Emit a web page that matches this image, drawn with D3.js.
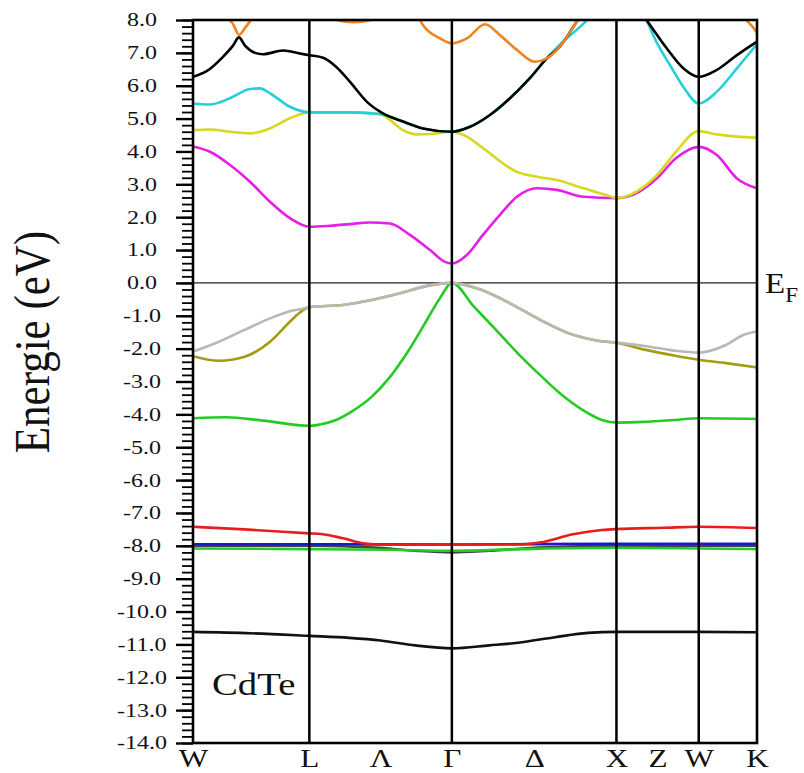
<!DOCTYPE html>
<html>
<head>
<meta charset="utf-8">
<script src="https://cdn.jsdelivr.net/npm/d3@7"></script>
<style>
  body { margin: 0; background: #fff; }
  svg text { font-family: "Liberation Serif", "Times New Roman", serif; fill: #111; }
</style>
</head>
<body>
<div id="chart"></div>
<script>
// k path W-L-Γ-X-W-K, distances in units of 2pi/a
var symLabels = ["W", "L", "Λ", "Γ", "Δ", "X", "Z", "W", "K"];
var symK = [0, 0.707, 1.140, 1.573, 2.073, 2.573, 2.823, 3.073, 3.427];
var symLines = [0.707, 1.573, 2.573, 3.073];

var yMajor = d3.range(-14, 8.001, 1);
var yMinor = d3.range(-14, 8.001, 0.2);

// bands, [k, E (eV)]
var bandCore = [[0,-10.62],[0.35,-10.66],[0.707,-10.74],[0.95,-10.80],[1.14,-10.88],[1.35,-11.03],[1.573,-11.12],
  [1.8,-11.03],[1.975,-10.95],[2.2,-10.78],[2.4,-10.65],[2.573,-10.62],[3.073,-10.62],[3.427,-10.63]];
var bandGreenLow = [[0,-8.08],[0.707,-8.10],[1.2,-8.12],[1.573,-8.15],[2.0,-8.10],[2.573,-8.06],[3.073,-8.08],[3.427,-8.10]];
var bandGreyLow = [[0,-8.0],[0.707,-8.0],[1.1,-8.05],[1.35,-8.15],[1.573,-8.2],[1.8,-8.15],[2.1,-8.05],[2.573,-8.0],[3.073,-8.0],[3.427,-8.0]];
var bandBlue = [[0,-7.95],[0.707,-7.95],[1.573,-7.96],[2.573,-7.94],[3.073,-7.94],[3.427,-7.94]];
var bandRed = [[0,-7.42],[0.313,-7.50],[0.707,-7.62],[0.778,-7.64],[0.911,-7.77],[1.045,-7.93],[1.154,-7.96],[1.573,-7.96],
  [1.975,-7.96],[2.108,-7.90],[2.309,-7.65],[2.485,-7.52],[2.573,-7.49],[2.861,-7.45],[3.073,-7.42],[3.427,-7.46]];

var bandLH = [[0,-4.12],[0.200,-4.09],[0.425,-4.19],[0.707,-4.35],[0.778,-4.30],[0.869,-4.17],[0.978,-3.87],[1.087,-3.46],
  [1.197,-2.86],[1.312,-2.04],[1.422,-1.12],[1.507,-0.41],[1.573,0],[1.707,-0.72],[1.841,-1.43],[1.975,-2.15],
  [2.108,-2.80],[2.242,-3.41],[2.369,-3.87],[2.485,-4.17],[2.573,-4.25],[2.743,-4.23],[2.928,-4.17],[3.073,-4.12],[3.427,-4.14]];
var bandOlive = [[0,-2.23],[0.158,-2.37],[0.313,-2.25],[0.468,-1.79],[0.601,-1.12],[0.650,-0.90],[0.707,-0.74],
  [0.911,-0.67],[1.087,-0.52],[1.264,-0.31],[1.422,-0.09],[1.573,0],[1.750,-0.21],[1.926,-0.62],[2.108,-1.12],
  [2.309,-1.58],[2.460,-1.76],[2.573,-1.82],[2.743,-2.03],[2.922,-2.21],[3.073,-2.34],[3.238,-2.44],[3.427,-2.57]];
var bandHH = [[0,-2.09],[0.158,-1.79],[0.313,-1.43],[0.468,-1.08],[0.601,-0.85],[0.650,-0.80],[0.707,-0.74],
  [0.911,-0.67],[1.087,-0.52],[1.264,-0.31],[1.422,-0.09],[1.573,0],[1.750,-0.21],[1.926,-0.62],[2.108,-1.12],
  [2.309,-1.58],[2.460,-1.76],[2.573,-1.82],[2.743,-1.92],[2.922,-2.06],[3.073,-2.12],[3.238,-1.89],[3.347,-1.58],[3.427,-1.48]];

var bandMagenta = [[0,4.15],[0.103,3.99],[0.225,3.59],[0.346,3.08],[0.468,2.47],[0.589,1.97],[0.707,1.71],[0.832,1.74],
  [0.954,1.79],[1.075,1.84],[1.197,1.81],[1.318,1.46],[1.440,1.0],[1.531,0.64],[1.573,0.59],[1.664,0.85],[1.762,1.46],
  [1.865,2.07],[1.968,2.62],[2.090,2.88],[2.211,2.83],[2.373,2.62],[2.573,2.58],[2.713,2.78],[2.819,3.18],[2.934,3.79],
  [3.073,4.14],[3.183,3.89],[3.305,3.18],[3.427,2.88]];
var bandYellow = [[0,4.65],[0.103,4.67],[0.225,4.60],[0.346,4.55],[0.468,4.70],[0.589,5.01],[0.707,5.19],[0.832,5.19],
  [0.954,5.19],[1.075,5.17],[1.154,5.11],[1.197,4.96],[1.276,4.65],[1.357,4.52],[1.440,4.53],[1.573,4.60],[1.664,4.45],
  [1.762,4.10],[1.968,3.38],[2.090,3.23],[2.211,3.13],[2.373,2.88],[2.515,2.67],[2.573,2.58],[2.695,2.78],[2.819,3.28],
  [2.934,3.99],[3.073,4.62],[3.183,4.52],[3.305,4.45],[3.427,4.42]];
var bandCyan = [[0,5.46],[0.103,5.43],[0.225,5.62],[0.346,5.90],[0.407,5.92],[0.468,5.77],[0.589,5.36],[0.707,5.19],
  [0.832,5.19],[0.954,5.19],[1.075,5.16],[1.154,5.12],[1.276,4.91],[1.397,4.70],[1.573,4.60],[1.683,4.75],[1.804,5.11],
  [1.926,5.62],[2.047,6.23],[2.150,6.83],[2.248,7.34],[2.394,8.0],[2.473,8.5],[2.573,8.9],[2.695,8.5],[2.755,8.0],
  [2.815,7.34],[2.898,6.63],[2.979,5.97],[3.073,5.46],[3.183,5.82],[3.305,6.53],[3.427,7.27]];
var bandBlack = [[0,6.27],[0.085,6.45],[0.182,6.88],[0.243,7.22],[0.279,7.47],[0.316,7.22],[0.377,7.0],[0.425,6.96],
  [0.548,7.07],[0.650,6.98],[0.707,6.93],[0.790,6.85],[0.869,6.58],[0.954,6.12],[1.057,5.51],[1.154,5.16],[1.276,4.91],
  [1.397,4.70],[1.573,4.60],[1.683,4.75],[1.804,5.11],[1.926,5.62],[2.047,6.23],[2.150,6.83],[2.229,7.19],[2.339,8.0],
  [2.473,8.8],[2.573,9.2],[2.695,8.4],[2.755,8.0],[2.878,7.14],[2.979,6.53],[3.073,6.27],[3.183,6.48],[3.305,6.93],[3.427,7.34]];
var bandOrange = [[0,8.8],[0.158,8.4],[0.213,8.05],[0.243,7.88],[0.279,7.55],[0.322,7.8],[0.365,8.08],[0.468,8.6],
  [0.707,8.7],[0.832,8.3],[0.875,8.0],[0.972,7.93],[1.081,8.0],[1.197,8.4],[1.318,8.3],[1.379,8.0],[1.397,7.85],
  [1.501,7.44],[1.573,7.29],[1.664,7.44],[1.774,7.87],[1.865,7.54],[1.968,7.09],[2.078,6.73],[2.150,6.83],[2.229,7.19],
  [2.339,8.0],[2.473,8.8],[2.573,9.2],[3.073,9.5],[3.305,8.4],[3.353,8.05],[3.390,7.85],[3.427,7.62]];

var bands = [
  {d: bandCore, c: "#111111"},
  {d: bandGreyLow, c: "#444444"},
  {d: bandGreenLow, c: "#22cc22"},
  {d: bandBlue, c: "#1818cc"},
  {d: bandRed, c: "#e81c1c"},
  {d: bandLH, c: "#22cc22"},
  {d: bandOlive, c: "#a39c12"},
  {d: bandHH, c: "#b8b8b8"},
  {d: bandMagenta, c: "#e61ee6"},
  {d: bandYellow, c: "#d8d820"},
  {d: bandCyan, c: "#22d0d8"},
  {d: bandBlack, c: "#000000"},
  {d: bandOrange, c: "#f08422"}
];

var margin = {top: 20, right: 47, bottom: 30, left: 193},
    width = 804 - margin.left - margin.right,
    height = 773 - margin.top - margin.bottom;

var x = d3.scaleLinear().domain([0, 3.427]).range([0, width]);
var y = d3.scaleLinear().domain([-14, 8]).range([height, 0]);

var svg = d3.select("#chart").append("svg")
    .attr("width", 804)
    .attr("height", 773)
  .append("g")
    .attr("transform", "translate(" + margin.left + "," + margin.top + ")");

svg.append("clipPath").attr("id", "clip")
  .append("rect").attr("width", width).attr("height", height);

// fermi level
svg.append("line")
    .attr("x1", 0).attr("x2", width)
    .attr("y1", y(0)).attr("y2", y(0))
    .attr("stroke", "#222").attr("stroke-width", 1.3);

// bands
var line = d3.line()
    .x(function(d) { return x(d[0]); })
    .y(function(d) { return y(d[1]); })
    .curve(d3.curveMonotoneX);

svg.append("g").attr("clip-path", "url(#clip)")
  .selectAll("path")
  .data(bands)
  .enter().append("path")
    .attr("d", function(b) { return line(b.d); })
    .attr("fill", "none")
    .attr("stroke", function(b) { return b.c; })
    .attr("stroke-width", 2.6);

// symmetry lines
svg.selectAll(".sym")
  .data(symLines)
  .enter().append("line")
    .attr("class", "sym")
    .attr("x1", function(d) { return x(d); }).attr("x2", function(d) { return x(d); })
    .attr("y1", 0).attr("y2", height)
    .attr("stroke", "#000").attr("stroke-width", 2.5);

// frame
svg.append("rect")
    .attr("width", width).attr("height", height)
    .attr("fill", "none").attr("stroke", "#000").attr("stroke-width", 2.6);

// y axis: minor + major ticks
var yMin = svg.append("g")
    .call(d3.axisLeft(y).tickValues(yMinor).tickSize(11).tickFormat(""));
yMin.select(".domain").remove();
yMin.selectAll("line").attr("stroke-width", 1.8);

var yAx = svg.append("g")
    .call(d3.axisLeft(y).tickValues(yMajor).tickSize(17)
      .tickFormat(function(d) { return d.toFixed(1); }));
yAx.select(".domain").remove();
yAx.selectAll("line").attr("stroke-width", 2.4);
// labels are centred and drawn a little wide, like the original
yAx.selectAll("text")
    .attr("text-anchor", "middle")
    .attr("x", -51 / 1.3)
    .attr("transform", "scale(1.3,1)")
    .style("font-size", "18.5px")
    .attr("fill", "#111");

// x axis labels
var xAx = svg.append("g")
    .attr("transform", "translate(0," + height + ")")
    .call(d3.axisBottom(x).tickValues(symK).tickSize(0).tickPadding(6)
      .tickFormat(function(d, i) { return symLabels[i]; }));
xAx.select(".domain").remove();
xAx.selectAll("text")
    .attr("transform", "scale(1.2,1)")
    .style("font-size", "26px")
    .attr("fill", "#111");

// y title
svg.append("text")
    .attr("transform", "translate(" + (49 - margin.left) + "," + 322 + ") rotate(-90) scale(1,1.16)")
    .attr("text-anchor", "middle")
    .style("font-size", "43px")
    .text("Energie (eV)");

// E_F
var ef = svg.append("text")
    .attr("transform", "translate(" + (width + 8) + "," + (y(0) + 10) + ") scale(1.1,1)")
    .style("font-size", "30px")
    .text("E");
ef.append("tspan").attr("dy", 9).style("font-size", "21px").text("F");

// compound
svg.append("text")
    .attr("transform", "translate(19,675) scale(1.25,1)")
    .style("font-size", "31px")
    .text("CdTe");
</script>
</body>
</html>
